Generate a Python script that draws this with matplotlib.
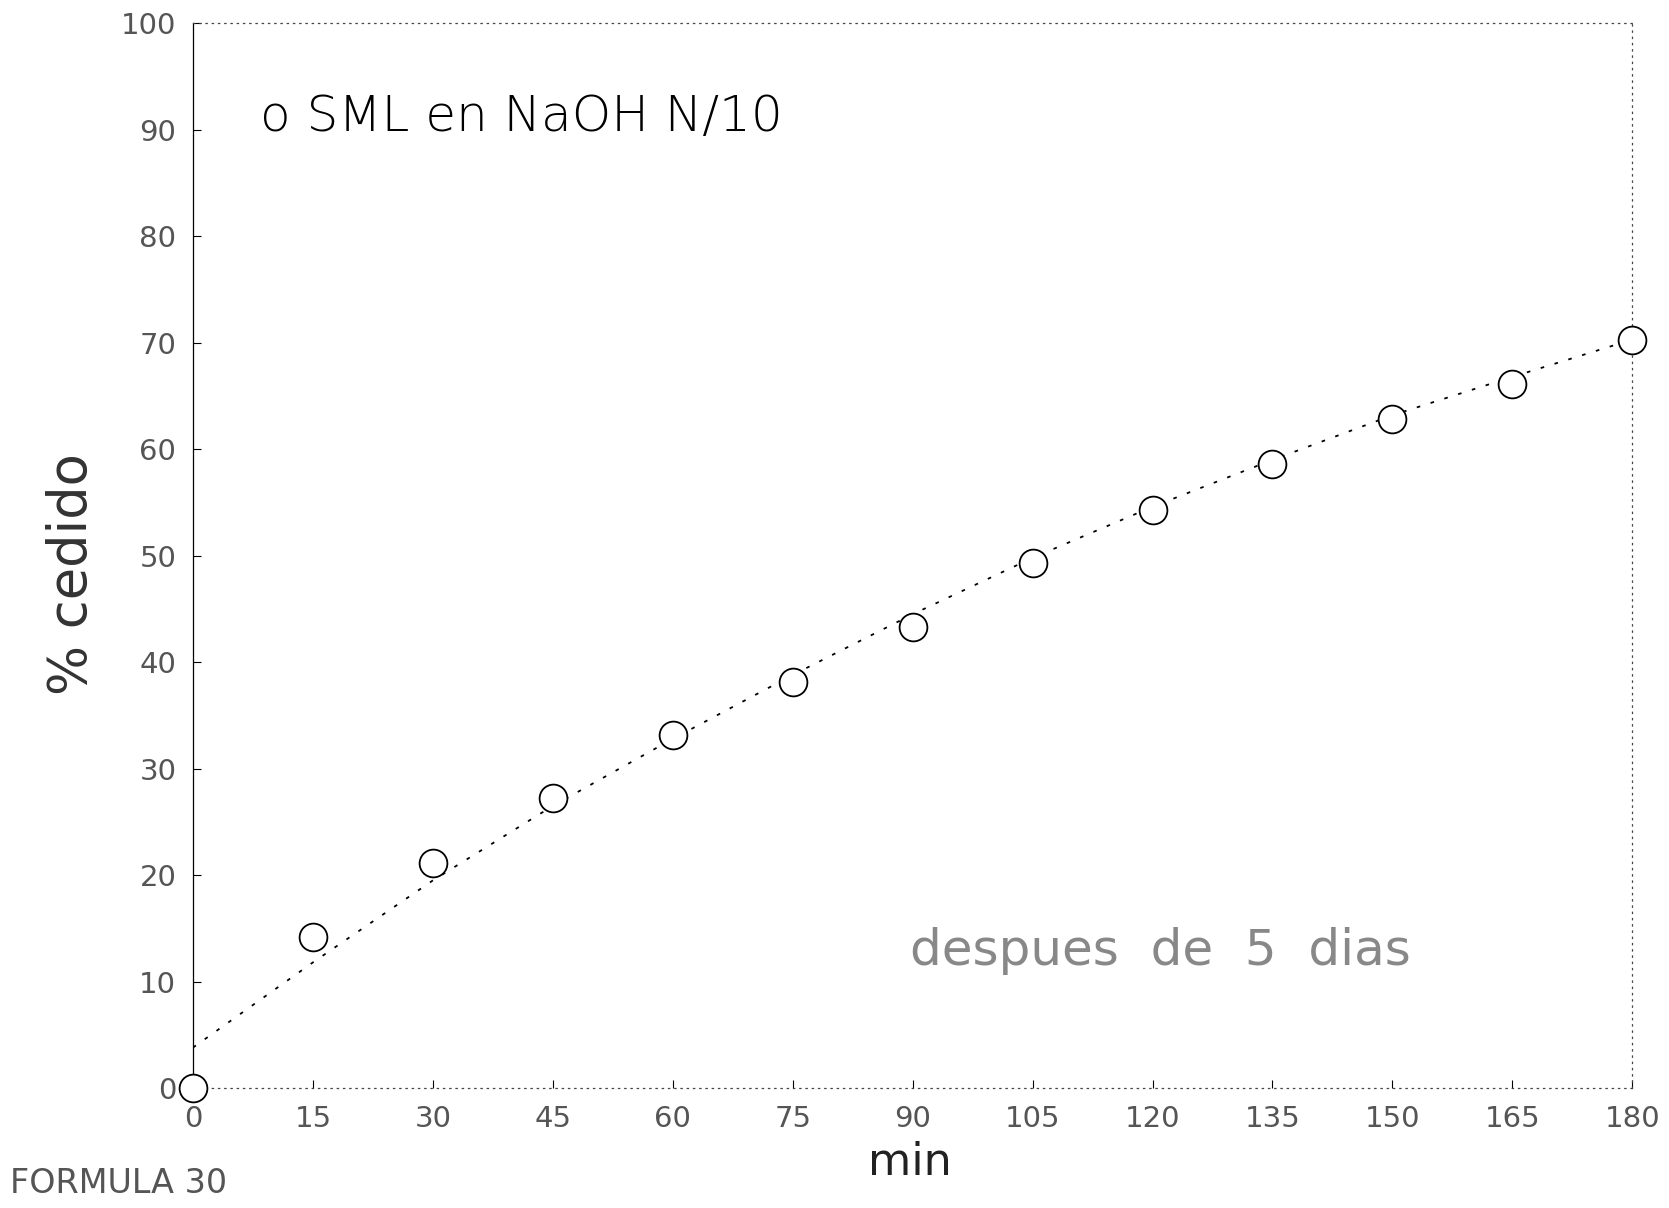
import numpy as np
import matplotlib.pyplot as plt

# datos
minutos = [0, 15, 30, 45, 60, 75, 90, 105, 120, 135, 150, 165, 180]
cedido = [0, 14.2, 21.1, 27.2, 33.2, 38.1, 43.3, 49.3, 54.3, 58.6, 62.8, 66.1, 70.3]
# curva punteada ajustada
ajuste = [3.8, 11.8, 19.5, 26.5, 32.8, 38.8, 44.5, 49.8, 54.6, 59.0, 63.2, 66.8, 70.3]
xticks = list(range(0, 181, 15))
yticks = list(range(0, 101, 10))

plt.rcParams['font.family'] = ['DejaVu Sans']

fig = plt.figure(figsize=(16.69, 12.08), dpi=100)
ax = fig.add_axes([0.1156, 0.0993, 0.8624, 0.8813])

ax.plot(minutos, ajuste, color='black', linestyle=(0, (2, 6)), linewidth=1.3)
ax.plot(minutos, cedido, linestyle='none', marker='o', markersize=20,
        markerfacecolor='white', markeredgecolor='black', markeredgewidth=1.3,
        clip_on=False, zorder=5)

ax.set_xlim(0, 180)
ax.set_ylim(0, 100)
ax.set_xticks(xticks)
ax.set_yticks(yticks)
ax.tick_params(axis='both', direction='in', length=6, width=0.8,
               labelsize=21, labelcolor='#555555', pad=12)
ax.tick_params(axis='x', pad=12)

ax.spines['left'].set_linewidth(0.9)
for s in ['top', 'right', 'bottom']:
    ax.spines[s].set_linestyle((0, (1, 4)))
    ax.spines[s].set_linewidth(0.9)
    ax.spines[s].set_color('#444444')

fig.text(0.156, 0.903, 'o SML en NaOH N/10', fontsize=36, va='center', ha='left',
         fontweight='light')
fig.text(0.545, 0.213, 'despues  de  5  dias', fontsize=36, va='center', ha='left',
         color='#888888')
fig.text(0.043, 0.525, '% cedido', fontsize=38, rotation=90, va='center', ha='center',
         color='#333333')
fig.text(0.545, 0.038, 'min', fontsize=32, va='center', ha='center', color='#222222')
fig.text(0.006, 0.020, 'FORMULA 30', fontsize=24, va='center', ha='left',
         color='#555555')

fig.savefig('out.png', dpi=100)
